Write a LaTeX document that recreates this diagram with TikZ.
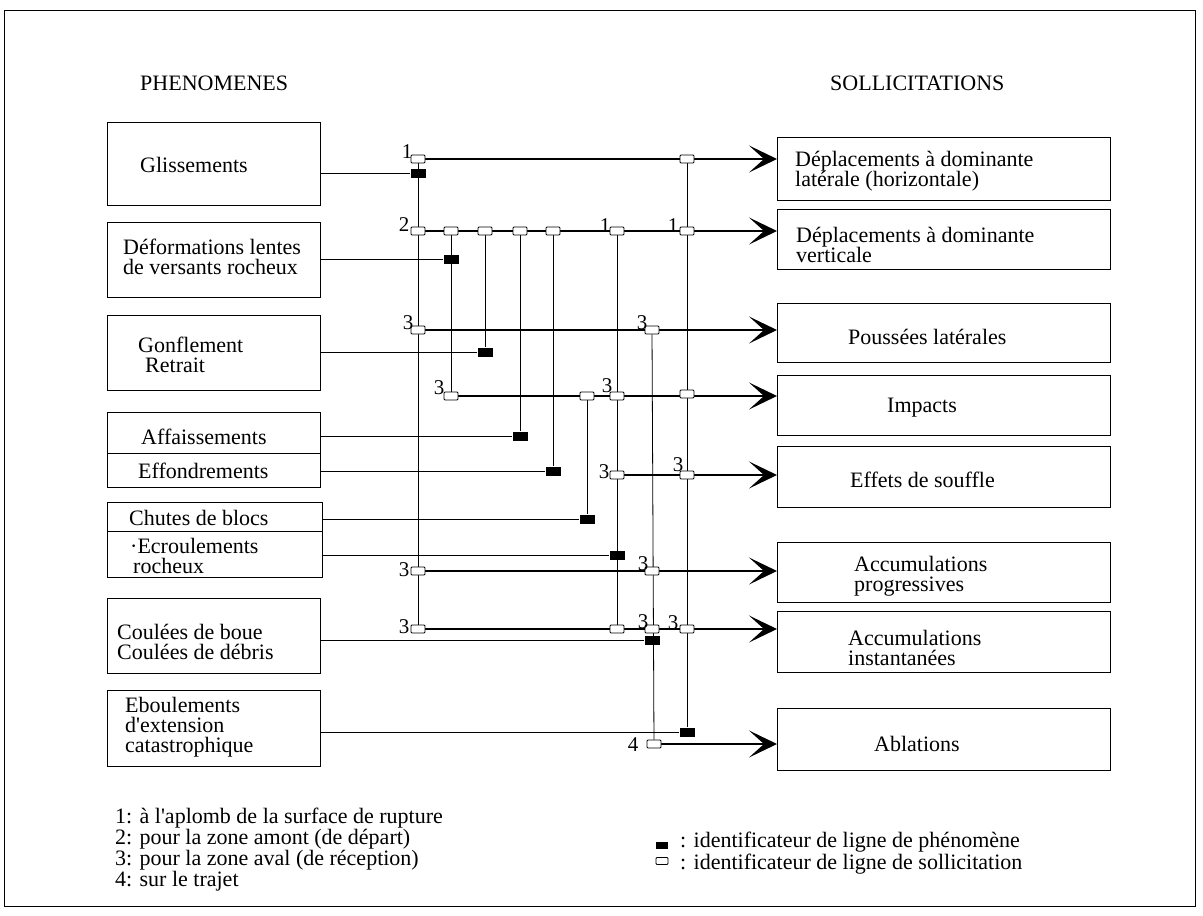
\documentclass[tikz,border=0pt]{standalone}
\usepackage{fontspec}
\setmainfont{Liberation Serif}
\usetikzlibrary{arrows.meta,backgrounds}

\begin{document}
\begin{tikzpicture}[x=1pt,y=-1pt,
  font=\fontsize{22}{20}\selectfont,
  pbox/.style={draw, line width=1.2pt, anchor=north west, minimum width=213pt, inner sep=0pt},
  sbox/.style={draw, line width=1.2pt, anchor=north west, minimum width=333pt, inner sep=0pt},
  txt/.style={anchor=west, align=left, inner sep=0pt},
  sol/.style={draw, fill=white, line width=0.8pt, rounded corners=1pt, minimum width=14pt, minimum height=8pt, inner sep=0pt},
  phe/.style={fill=black, minimum width=15pt, minimum height=9pt, inner sep=0pt},
  num/.style={inner sep=0pt, font=\fontsize{21}{21}\selectfont},
  link/.style={line width=0.8pt},
  flow/.style={line width=1.2pt, -{Stealth[length=28pt, width=27pt, inset=15pt]}}]
\useasboundingbox (0,0) rectangle (1203,916);
\draw[line width=0.8pt] (4,10) rectangle (1195,906);

\node[txt] (hphen) at (140,83) {PHENOMENES};
\node[txt] (hsoll) at (830,83) {SOLLICITATIONS};

\node[pbox, minimum height=83pt] (glis) at (107,122) {};
\node[pbox, minimum height=75pt] (defo) at (107,222) {};
\node[pbox, minimum height=75pt] (gonf) at (107,315) {};
\node[pbox, minimum height=41pt] (affa) at (107,412) {};
\node[pbox, minimum height=34pt] (effo) at (107,453) {};
\node[pbox, minimum width=215pt, minimum height=29pt] (chut) at (107,502) {};
\node[pbox, minimum width=215pt, minimum height=46pt] (ecro) at (107,531) {};
\node[pbox, minimum height=75pt] (coul) at (107,598) {};
\node[pbox, minimum height=76pt] (ebou) at (107,690) {};

\node[txt] (glis-t) at (140,165) {Glissements};
\node[txt] (defo-t) at (123,257) {Déformations lentes\\de versants rocheux};
\node[txt] (gonf-t) at (138,355) {Gonflement\\\hspace{7pt}Retrait};
\node[txt] (affa-t) at (141,437) {Affaissements};
\node[txt] (effo-t) at (138,471) {Effondrements};
\node[txt] (chut-t) at (129,518) {Chutes de blocs};
\node[txt] (ecro-t) at (130,556) {·Ecroulements\\\hspace{3pt}rocheux};
\node[txt] (coul-t) at (117,642) {Coulées de boue\\Coulées de débris};
\node[txt] (ebou-t) at (125,727) {Eboulements\\d\textquotesingle extension\\catastrophique};

\node[sbox, minimum height=63pt] (dlat) at (777,137) {};
\node[sbox, minimum height=60pt] (dver) at (777,209) {};
\node[sbox, minimum height=59pt] (pous) at (777,303) {};
\node[sbox, minimum height=60pt] (impa) at (777,375) {};
\node[sbox, minimum height=61pt] (souf) at (777,446) {};
\node[sbox, minimum height=60pt] (aprog) at (777,542) {};
\node[sbox, minimum height=61pt] (ainst) at (777,611) {};
\node[sbox, minimum height=62pt] (abla) at (777,708) {};

\node[txt] (dlat-t) at (795,171) {Déplacements à dominante\\latérale (horizontale)};
\node[txt] (dver-t) at (796,245) {Déplacements à dominante\\verticale};
\node[txt] (pous-t) at (848,337) {Poussées latérales};
\node[txt] (impa-t) at (887,408) {Impacts};
\node[txt] (souf-t) at (850,480) {Effets de souffle};
\node[txt] (aprog-t) at (854,576) {Accumulations\\progressives};
\node[txt] (ainst-t) at (848,648) {Accumulations\\instantanées};
\node[txt] (abla-t) at (874,744) {Ablations};

\node[sol] (s1a) at (418,159) {};
\node[sol] (s1b) at (418,231) {};
\node[sol] (s1c) at (418,330) {};
\node[sol] (s1f) at (418,571) {};
\node[sol] (s1g) at (418,629) {};
\node[sol] (s2b) at (451,231) {};
\node[sol] (s2d) at (451,396) {};
\node[sol] (s3b) at (485,231) {};
\node[sol] (s4b) at (520,231) {};
\node[sol] (s5b) at (553,231) {};
\node[sol] (s6d) at (587,396) {};
\node[sol] (s7b) at (617,231) {};
\node[sol] (s7d) at (617,396) {};
\node[sol] (s7e) at (617,475) {};
\node[sol] (s7g) at (617,629) {};
\node[sol] (s8c) at (652,330) {};
\node[sol] (s8f) at (652,571) {};
\node[sol] (s8g) at (652,629) {};
\node[sol] (s8h) at (654,744) {};
\node[sol] (s9a) at (687,159) {};
\node[sol] (s9b) at (687,231) {};
\node[sol] (s9d) at (687,394) {};
\node[sol] (s9e) at (687,475) {};
\node[sol] (s9g) at (687,629) {};

\node[phe] (p1) at (418,173) {};
\node[phe] (p2) at (451,259) {};
\node[phe] (p3) at (485,352) {};
\node[phe] (p4) at (520,436) {};
\node[phe] (p5) at (553,471) {};
\node[phe] (p6) at (587,519) {};
\node[phe] (p7) at (617,555) {};
\node[phe] (p8) at (652,640) {};
\node[phe] (p9) at (687,732) {};

\node[num] (n1a) at (407,152) {1};
\node[num] (n1b) at (404,225) {2};
\node[num] (n1c) at (408,323) {3};
\node[num] (n1f) at (404,570) {3};
\node[num] (n1g) at (404,627) {3};
\node[num] (n2d) at (439,388) {3};
\node[num] (n7b) at (605,226) {1};
\node[num] (n7d) at (607,386) {3};
\node[num] (n7e) at (604,472) {3};
\node[num] (n8c) at (642,323) {3};
\node[num] (n8f) at (643,564) {3};
\node[num] (n8g) at (643,622) {3};
\node[num] (n8h) at (633,745) {4};
\node[num] (n9b) at (673,226) {1};
\node[num] (n9e) at (678,465) {3};
\node[num] (n9g) at (673,623) {3};

\begin{pgfonlayer}{background}
\draw[link] (s1a) -- (s1g);
\draw[link] (s2b) -- (s2d);
\draw[link] (s3b) -- (p3);
\draw[link] (s4b) -- (p4);
\draw[link] (s5b) -- (p5);
\draw[link] (s6d) -- (p6);
\draw[link] (s7b) -- (s7g);
\draw[link] (s8c) -- (s8h);
\draw[link] (s9a) -- (p9);

\draw[link] (p1 -| glis.east) -- (p1);
\draw[link] (p2 -| defo.east) -- (p2);
\draw[link] (p3 -| gonf.east) -- (p3);
\draw[link] (p4 -| affa.east) -- (p4);
\draw[link] (p5 -| effo.east) -- (p5);
\draw[link] (p6 -| chut.east) -- (p6);
\draw[link] (p7 -| ecro.east) -- (p7);
\draw[link] (p8 -| coul.east) -- (p8);
\draw[link] (p9 -| ebou.east) -- (p9);

\draw[flow] (s1a) -- (s1a -| dlat.west);
\draw[flow] (s1b) -- (s1b -| dver.west);
\draw[flow] (s1c) -- (s1c -| pous.west);
\draw[flow] (s2d) -- (s2d -| impa.west);
\draw[flow] (s7e) -- (s7e -| souf.west);
\draw[flow] (s1f) -- (s1f -| aprog.west);
\draw[flow] (s1g) -- (s1g -| ainst.west);
\draw[flow] (s8h) -- (s8h -| abla.west);
\end{pgfonlayer}

\node[txt, font=\fontsize{22}{19.5}\selectfont] (leg-num) at (115,850) {1: à l\textquotesingle aplomb de la surface de rupture\\2: pour la zone amont (de départ)\\3: pour la zone aval (de réception)\\4: sur le trajet};
\node[phe, minimum width=12pt, minimum height=7pt] (leg-p) at (662,845) {};
\node[sol, minimum width=12pt, minimum height=7pt] (leg-s) at (662,861) {};
\node[txt, font=\fontsize{22}{16.5}\selectfont] (leg-t) at (680,853) {: identificateur de ligne de phénomène\\: identificateur de ligne de sollicitation};
\end{tikzpicture}
\end{document}
